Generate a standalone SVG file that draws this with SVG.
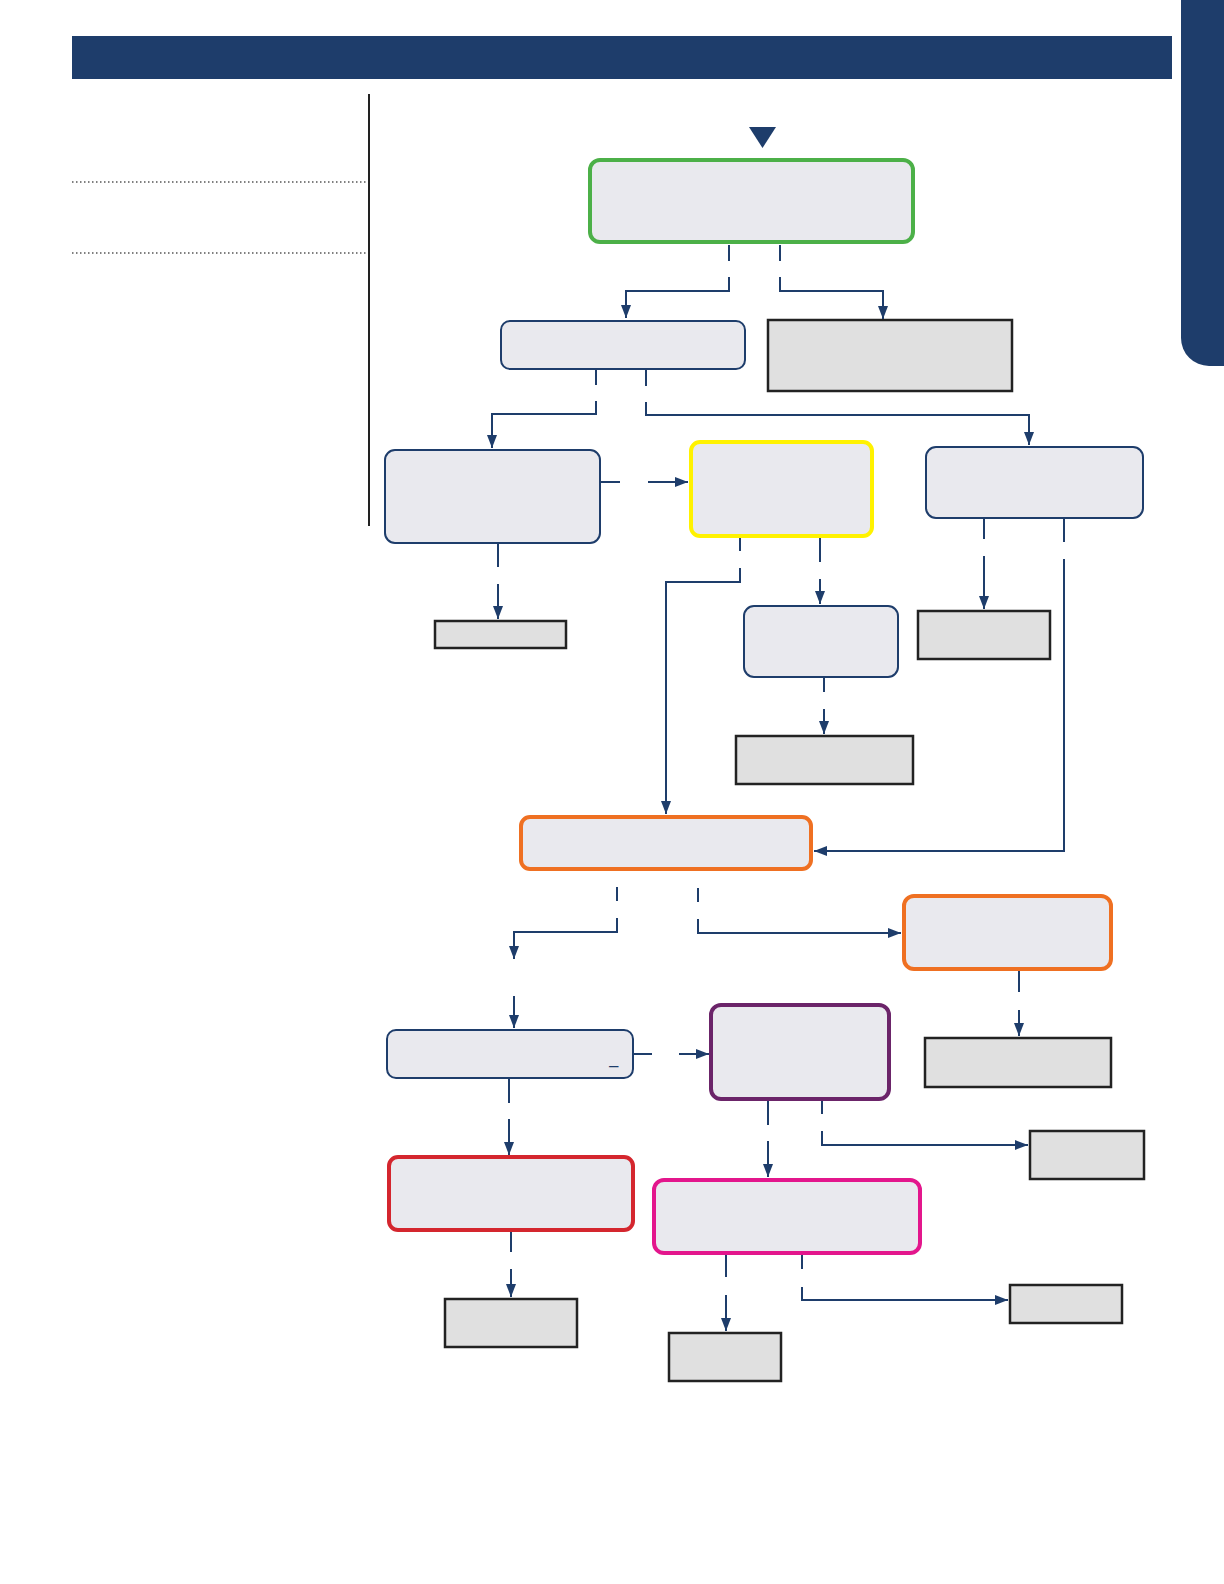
<svg xmlns="http://www.w3.org/2000/svg" width="1224" height="1584" viewBox="0 0 1224 1584">
<defs>
<style>
.rb{fill:#e9e9ee;stroke:#1e3d6b;stroke-width:2}
.gr{fill:#e9e9ee;stroke:#4cb048;stroke-width:4}
.ye{fill:#e9e9ee;stroke:#fff200;stroke-width:4}
.or{fill:#e9e9ee;stroke:#ef7022;stroke-width:4}
.pu{fill:#e9e9ee;stroke:#6b2469;stroke-width:4}
.re{fill:#e9e9ee;stroke:#d4262e;stroke-width:4}
.pk{fill:#e9e9ee;stroke:#e3168c;stroke-width:4}
.gb{fill:#e0e0e0;stroke:#222;stroke-width:2.5}
.c{fill:none;stroke:#1e3d6b;stroke-width:2}
.ca{fill:none;stroke:#1e3d6b;stroke-width:2;marker-end:url(#ah)}
.dot{stroke:#555;stroke-width:1.5;stroke-dasharray:1.5 2.5}
</style>
<marker id="ah" markerUnits="userSpaceOnUse" markerWidth="13" markerHeight="11" refX="13" refY="5" orient="auto">
<path d="M0,0 L13,5 L0,10 z" fill="#1e3d6b"/>
</marker>
</defs>
<rect width="1224" height="1584" fill="#fff"/>
<g id="header">
<rect x="72" y="36" width="1100" height="43" fill="#1e3d6b"/>
<path d="M1181,0 H1224 V366 H1209 A28,28 0 0 1 1181,338 Z" fill="#1e3d6b"/>
</g>
<g id="sidebar">
<line x1="369" y1="94" x2="369" y2="526" stroke="#222" stroke-width="2"/>
<line class="dot" x1="72" y1="182" x2="367" y2="182"/>
<line class="dot" x1="72" y1="253" x2="367" y2="253"/>
</g>
<g id="start"><path d="M749,127 L776,127 L762.5,148 Z" fill="#1e3d6b"/></g>
<g id="n-green"><rect class="gr" x="590" y="160" width="323" height="82" rx="10"/></g>
<g id="n-b1"><rect class="rb" x="501" y="321" width="244" height="48" rx="9"/></g>
<g id="n-g1"><rect class="gb" x="768" y="320" width="244" height="71"/></g>
<g id="n-b2"><rect class="rb" x="385" y="450" width="215" height="93" rx="10"/></g>
<g id="n-yellow"><rect class="ye" x="691" y="442" width="181" height="94" rx="9"/></g>
<g id="n-b3"><rect class="rb" x="926" y="447" width="217" height="71" rx="10"/></g>
<g id="n-g2"><rect class="gb" x="435" y="621" width="131" height="27"/></g>
<g id="n-b4"><rect class="rb" x="744" y="606" width="154" height="71" rx="10"/></g>
<g id="n-g3"><rect class="gb" x="736" y="736" width="177" height="48"/></g>
<g id="n-g4"><rect class="gb" x="918" y="611" width="132" height="48"/></g>
<g id="n-o1"><rect class="or" x="521" y="817" width="290" height="52" rx="9"/></g>
<g id="n-o2"><rect class="or" x="904" y="896" width="207" height="73" rx="10"/></g>
<g id="n-g5"><rect class="gb" x="925" y="1038" width="186" height="49"/></g>
<g id="n-b5"><rect class="rb" x="387" y="1030" width="246" height="48" rx="9"/>
<text x="609" y="1071" font-family="Liberation Sans, Arial, sans-serif" font-size="17" fill="#1e3d6b">–</text></g>
<g id="n-purple"><rect class="pu" x="711" y="1005" width="178" height="94" rx="10"/></g>
<g id="n-g6"><rect class="gb" x="1030" y="1131" width="114" height="48"/></g>
<g id="n-red"><rect class="re" x="389" y="1157" width="244" height="73" rx="9"/></g>
<g id="n-pink"><rect class="pk" x="654" y="1180" width="266" height="73" rx="10"/></g>
<g id="n-g7"><rect class="gb" x="445" y="1299" width="132" height="48"/></g>
<g id="n-g8"><rect class="gb" x="669" y="1333" width="112" height="48"/></g>
<g id="n-g9"><rect class="gb" x="1010" y="1285" width="112" height="38"/></g>
<g id="connectors">
<path class="c" d="M729,245 V261 M780,245 V261"/>
<path class="ca" d="M729,277 V291 H626 V318"/>
<path class="ca" d="M780,277 V291 H883 V319"/>
<path class="c" d="M596,370 V385 M646,370 V386"/>
<path class="ca" d="M596,401 V414 H492 V448"/>
<path class="ca" d="M646,402 V415 H1029 V445"/>
<path class="c" d="M601,482 H620"/>
<path class="ca" d="M648,482 H688"/>
<path class="c" d="M498,544 V567"/>
<path class="ca" d="M498,584 V619"/>
<path class="c" d="M740,538 V551"/>
<path class="ca" d="M740,568 V582 H666 V814"/>
<path class="c" d="M820,538 V562"/>
<path class="ca" d="M820,579 V604"/>
<path class="c" d="M824,678 V692"/>
<path class="ca" d="M824,709 V734"/>
<path class="c" d="M984,519 V539"/>
<path class="ca" d="M984,556 V609"/>
<path class="c" d="M1064,519 V542"/>
<path class="ca" d="M1064,559 V851 H814"/>
<path class="c" d="M617,887 V901"/>
<path class="ca" d="M617,918 V932 H514 V959"/>
<path class="ca" d="M514,996 V1028"/>
<path class="c" d="M698,888 V902"/>
<path class="ca" d="M698,919 V933 H901"/>
<path class="c" d="M1019,971 V992"/>
<path class="ca" d="M1019,1010 V1036"/>
<path class="c" d="M634,1054 H652"/>
<path class="ca" d="M679,1054 H709"/>
<path class="c" d="M768,1101 V1125"/>
<path class="ca" d="M768,1141 V1177"/>
<path class="c" d="M822,1101 V1114"/>
<path class="ca" d="M822,1131 V1145 H1028"/>
<path class="c" d="M509,1079 V1103"/>
<path class="ca" d="M509,1119 V1155"/>
<path class="c" d="M511,1232 V1252"/>
<path class="ca" d="M511,1269 V1297"/>
<path class="c" d="M726,1255 V1277"/>
<path class="ca" d="M726,1295 V1331"/>
<path class="c" d="M802,1255 V1269"/>
<path class="ca" d="M802,1287 V1300 H1008"/>
</g>
</svg>
